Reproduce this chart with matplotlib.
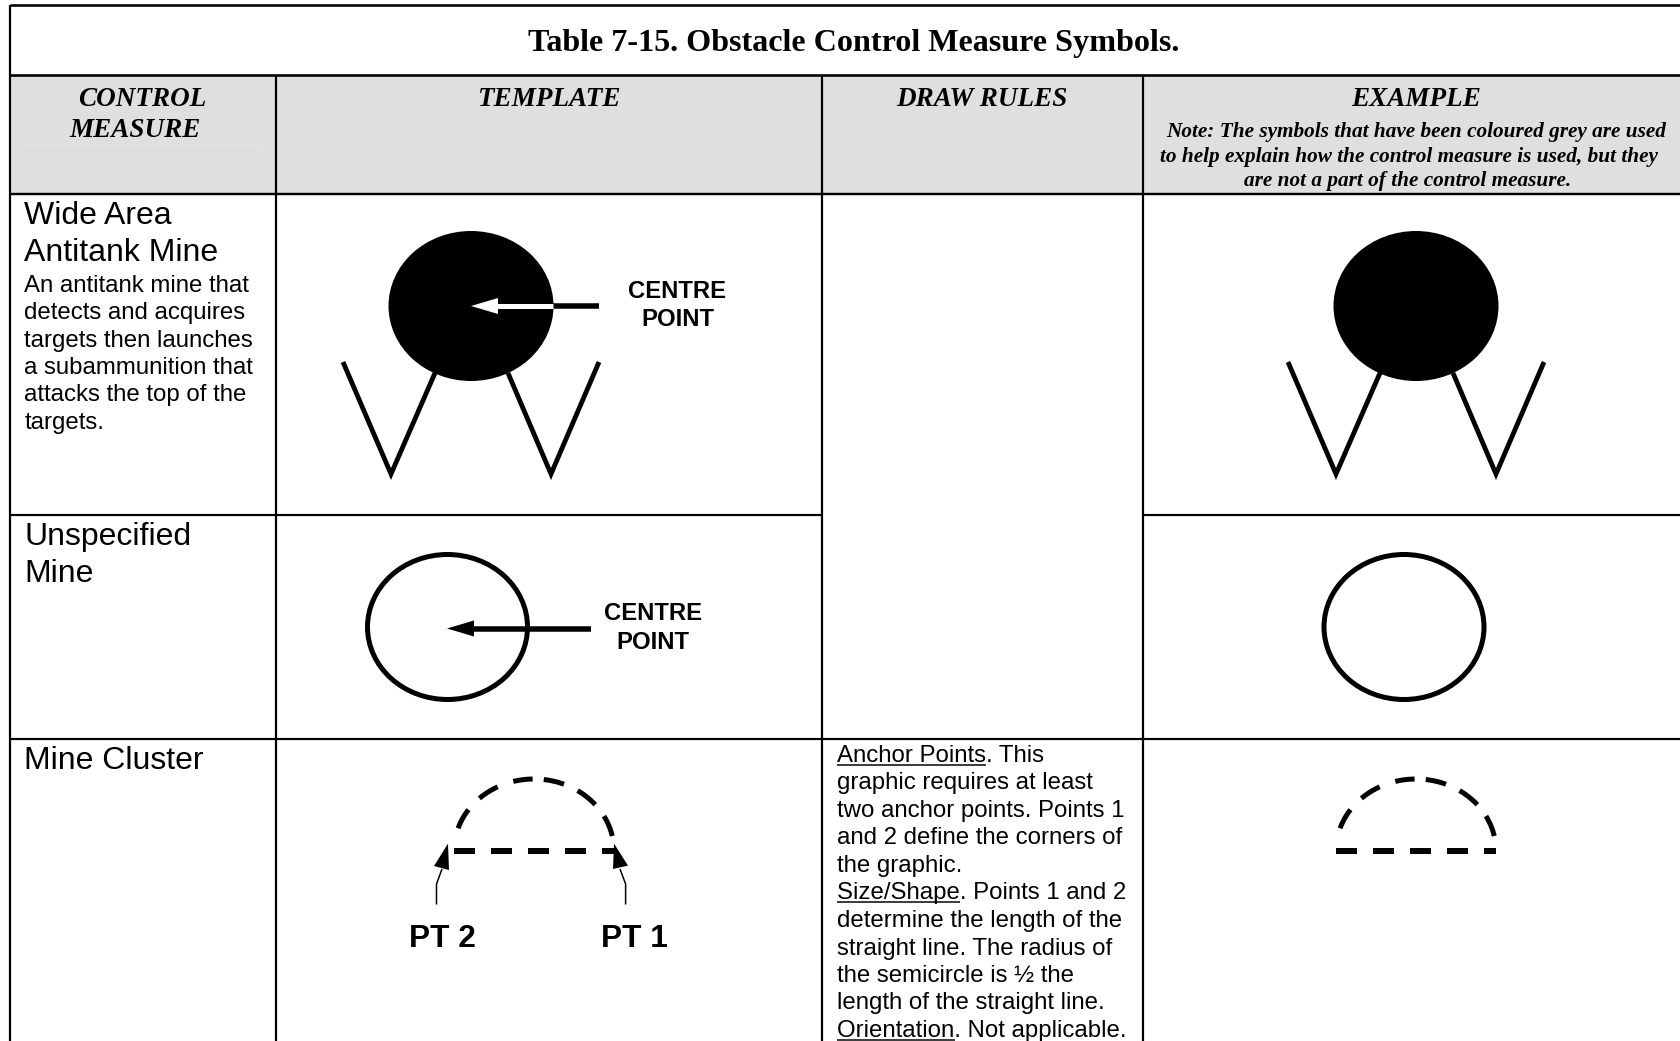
import numpy as np
import matplotlib
matplotlib.use('Agg')
import matplotlib.pyplot as plt
from matplotlib.patches import Ellipse, Polygon, Rectangle

# table text
title = 'Table 7-15. Obstacle Control Measure Symbols.'
header_labels = ['TEMPLATE', 'DRAW RULES', 'EXAMPLE']
measure_header = ['CONTROL', 'MEASURE']
note_lines = ['Note: The symbols that have been coloured grey are used',
              'to help explain how the control measure is used, but they',
              'are not a part of the control measure.']
wide_area_name = ['Wide Area', 'Antitank Mine']
wide_area_desc = ['An antitank mine that', 'detects and acquires', 'targets then launches',
                  'a subammunition that', 'attacks the top of the', 'targets.']
unspecified_name = ['Unspecified', 'Mine']
cluster_name = 'Mine Cluster'
centre_label = ['CENTRE', 'POINT']
pt_labels = ['PT 2', 'PT 1']
draw_rules = ['Anchor Points. This', 'graphic requires at least', 'two anchor points. Points 1',
              'and 2 define the corners of', 'the graphic.', 'Size/Shape. Points 1 and 2',
              'determine the length of the', 'straight line. The radius of',
              'the semicircle is \u00bd the', 'length of the straight line.',
              'Orientation. Not applicable.']
underlined = ['Anchor Points', 'Size/Shape', 'Orientation']

# table grid, in pixels of the page
col_edges = [9.6, 276, 822, 1143]
row_edges = [4.7, 75, 193.5, 514.5, 739]

# angles of the dashes on the mine cluster arc
arc_dashes = [(161.6, 145), (133, 117), (105, 91), (83, 68), (57, 40), (29, 12)]

W, H = 1681, 1041
SANS = 'Liberation Sans'
SERIF = 'Liberation Serif'

fig = plt.figure(figsize=(W / 100, H / 100), dpi=100)
ax = fig.add_axes([0, 0, 1, 1])
ax.set_xlim(0, W)
ax.set_ylim(H, 0)
ax.axis('off')


def px(v):
    return v * 72 / 100


def hline(y, x0, x1, w=2.2, color='black'):
    ax.plot([x0, x1], [y, y], color=color, lw=px(w), solid_capstyle='butt')


def vline(x, y0, y1, w=2.2):
    ax.plot([x, x], [y0, y1], color='black', lw=px(w), solid_capstyle='butt')


def poly(points, w=4.8):
    ax.plot([p[0] for p in points], [p[1] for p in points], color='black', lw=px(w),
            solid_capstyle='butt', solid_joinstyle='miter')


def mine_v(cx):
    # the two Vs under the filled mine, cx is the middle of the ellipse
    poly([(cx - 128, 362), (cx - 80, 474), (cx - 36, 373)])
    poly([(cx + 37, 373), (cx + 80, 474), (cx + 128, 362)])


def centre_text(cx, y0):
    for i, s in enumerate(centre_label):
        ax.text(cx, y0 + i * 28.5, s, family=SANS, weight='bold', fontsize=17.2,
                ha='center', va='baseline')


def cluster(cx):
    y0 = 851
    for a, b in arc_dashes:
        t = np.radians(np.linspace(a, b, 20))
        ax.plot(cx + 80 * np.cos(t), y0 - 72 * np.sin(t), color='black', lw=px(5),
                solid_capstyle='butt')
    xs = cx - 80 + np.arange(5) * 37
    for x in xs:
        hline(y0, x, min(x + 21, cx + 80), 6)


ax.add_patch(Rectangle((col_edges[0], row_edges[1]), W - col_edges[0], row_edges[2] - row_edges[1],
                       facecolor='#dfdfdf', edgecolor='none'))
ax.plot([24, 262], [145, 145], color='#e6e6e6', lw=px(1))

# grid
hline(row_edges[0], col_edges[0], W, 2.6)
hline(row_edges[1], col_edges[0], W, 2.6)
hline(row_edges[2], col_edges[0], W, 2.4)
hline(row_edges[3], col_edges[0], col_edges[2])
hline(row_edges[3], col_edges[3], W)
hline(row_edges[4], col_edges[0], W)
vline(col_edges[0], row_edges[0], H)
for x in col_edges[1:]:
    vline(x, row_edges[1], H)

# header
ax.text(854, 51, title, family=SERIF, weight='bold', fontsize=23.1, ha='center', va='baseline')
hdr = dict(family=SERIF, weight='bold', style='italic', fontsize=19.5, ha='center', va='baseline')
ax.text(142, 106, measure_header[0], **hdr)
ax.text(135, 137, measure_header[1], **hdr)
for cx, s in zip([549, 982, 1416], header_labels):
    ax.text(cx, 106, s, **hdr)
for cx, y, s in zip([1416, 1409, 1408], [137, 162, 186], note_lines):
    ax.text(cx, y, s, family=SERIF, weight='bold', style='italic', fontsize=15.3,
            ha='center', va='baseline')

# first column
name = dict(family=SANS, fontsize=23, va='baseline', ha='left')
desc = dict(family=SANS, fontsize=17.3, va='baseline', ha='left')
for y, s in zip([224, 261], wide_area_name):
    ax.text(24.5, y, s, **name)
for i, s in enumerate(wide_area_desc):
    ax.text(24.5, 291.5 + i * 27.5, s, **desc)
for y, s in zip([545, 582], unspecified_name):
    ax.text(24.5, y, s, **name)
ax.text(24.5, 769, cluster_name, **name)

# wide area antitank mine
for cx in [471, 1416]:
    ax.add_patch(Ellipse((cx, 306), 165, 150, facecolor='black', edgecolor='none'))
    mine_v(cx)
hline(306, 553, 599, 5.5)
hline(306, 496, 553, 5, color='white')
ax.add_patch(Polygon([(471, 306), (498, 298), (498, 314)], facecolor='white', edgecolor='none'))
centre_text(677.5, 298)

# unspecified mine
for cx in [447.5, 1404]:
    ax.add_patch(Ellipse((cx, 627), 160, 145, facecolor='none', edgecolor='black', lw=px(5)))
hline(628.5, 472, 591, 5.5)
ax.add_patch(Polygon([(447, 628.5), (474, 620.5), (474, 636.5)], facecolor='black', edgecolor='none'))
centre_text(653, 620.5)

# mine cluster
cluster(534)
cluster(1416)
ax.add_patch(Polygon([(448, 843.6), (434, 866), (449, 870)], facecolor='black', edgecolor='none'))
ax.add_patch(Polygon([(614, 843.6), (613, 869), (628, 865.6)], facecolor='black', edgecolor='none'))
poly([(442, 869), (436.5, 884), (436.5, 904.5)], 1.5)
poly([(620, 869), (625.6, 884), (625.6, 904.5)], 1.5)
for cx, s in zip([442, 634], pt_labels):
    ax.text(cx, 947, s, family=SANS, weight='bold', fontsize=22.8, ha='center', va='baseline')

# draw rules column
fig.canvas.draw()
rend = fig.canvas.get_renderer()
for i, s in enumerate(draw_rules):
    y = 762 + i * 27.5
    ax.text(837.5, y, s, **desc)
    for u in underlined:
        if s.startswith(u):
            probe = ax.text(837.5, y, u, **desc)
            box = probe.get_window_extent(rend)
            probe.remove()
            ax.plot([837.5, box.x1], [y + 2.5, y + 2.5], color='black', lw=px(1.5), solid_capstyle='butt')

fig.savefig('out.png', dpi=100)
